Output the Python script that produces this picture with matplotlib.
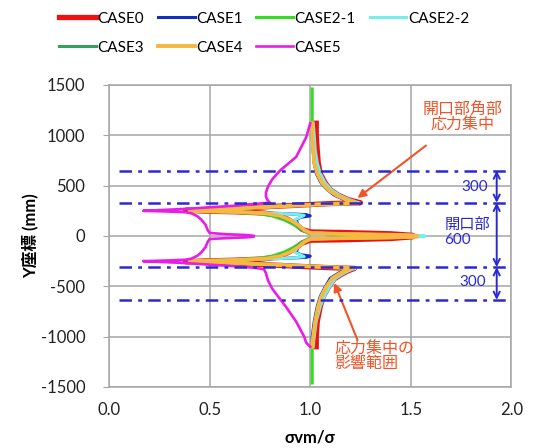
import numpy as np
import matplotlib
matplotlib.use("Agg")
import matplotlib.pyplot as plt

plt.rcParams['font.family'] = ['Lato', 'Noto Sans CJK JP', 'DejaVu Sans']
plt.rcParams['axes.unicode_minus'] = False

# ---- data ----
labels = ["CASE0", "CASE1", "CASE2-1", "CASE2-2", "CASE3", "CASE4", "CASE5"]
colors = ["#ee1111", "#1030c0", "#33dd22", "#77eeee", "#33a060", "#f5b840", "#e81ee8"]
widths = [3.8, 2.2, 2.2, 2.2, 2.2, 2.8, 1.9]

case0_y = [1120, 1000, 850, 725, 620, 525, 460, 405, 360, 330,
           322, 310, 297, 282, 267, 255,
           247, 240, 228, 205, 165, 115, 65, 40,
           35, 22, 6, -8, -25, -38,
           -42, -70, -115, -165, -205, -228, -240, -248,
           -255, -265, -278, -292, -305, -315,
           -322, -345, -375, -425, -510, -600, -700, -850, -1000, -1100]
case0_x = [1.03, 1.03, 1.035, 1.04, 1.05, 1.075, 1.10, 1.14, 1.19, 1.25,
           1.10, 0.98, 0.85, 0.70, 0.55, 0.38,
           0.48, 0.63, 0.77, 0.84, 0.89, 0.93, 0.96, 1.00,
           1.15, 1.40, 1.51, 1.51, 1.40, 1.15,
           1.00, 0.96, 0.93, 0.89, 0.84, 0.77, 0.63, 0.48,
           0.38, 0.55, 0.70, 0.85, 0.98, 1.10,
           1.22, 1.19, 1.16, 1.12, 1.09, 1.065, 1.05, 1.035, 1.03, 1.03]

case1_y = [1120, 1000, 850, 725, 620, 525, 460, 405, 360, 325,
           318, 308, 295, 280, 265, 252,
           245, 238, 228, 220, 212, 200, 185, 160, 110, 60, 30,
           18, 10, 2, -6, -14, -20,
           -30, -60, -110, -160, -185, -200, -212, -220, -228, -238, -245,
           -252, -262, -275, -288, -300, -310,
           -318, -340, -370, -420, -505, -600, -700, -850, -1000, -1100]
case1_x = [1.01, 1.01, 1.015, 1.02, 1.03, 1.055, 1.085, 1.12, 1.17, 1.22,
           1.10, 0.98, 0.85, 0.70, 0.55, 0.40,
           0.50, 0.65, 0.80, 0.90, 0.98, 1.00, 0.95, 0.93, 0.94, 0.97, 1.00,
           1.15, 1.35, 1.48, 1.48, 1.35, 1.15,
           1.00, 0.97, 0.94, 0.93, 0.95, 1.00, 0.98, 0.90, 0.80, 0.65, 0.50,
           0.40, 0.55, 0.70, 0.85, 0.98, 1.10,
           1.20, 1.17, 1.14, 1.10, 1.075, 1.05, 1.035, 1.02, 1.01, 1.01]

case21_y = [1460, 1300, 1120, 1000, 850, 725, 620, 525, 460, 405, 360, 325,
            318, 308, 295, 280, 265, 252,
            245, 236, 222, 200, 160, 110, 60, 30,
            20, 12, 3, -6, -15, -22,
            -30, -60, -110, -160, -200, -222, -236, -245,
            -252, -262, -275, -288, -300, -310,
            -318, -340, -370, -420, -505, -600, -700, -850, -1000, -1100, -1300, -1460]
case21_x = [1.01, 1.01, 1.01, 1.01, 1.015, 1.02, 1.035, 1.06, 1.09, 1.13, 1.18, 1.23,
            1.10, 0.98, 0.85, 0.70, 0.55, 0.40,
            0.48, 0.62, 0.74, 0.81, 0.87, 0.92, 0.96, 0.99,
            1.15, 1.38, 1.50, 1.50, 1.38, 1.15,
            0.99, 0.96, 0.92, 0.87, 0.81, 0.74, 0.62, 0.48,
            0.40, 0.55, 0.70, 0.85, 0.98, 1.10,
            1.21, 1.18, 1.15, 1.11, 1.08, 1.055, 1.04, 1.025, 1.015, 1.01, 1.01, 1.01]

case22_y = [1120, 1000, 850, 725, 620, 525, 460, 405, 360, 328,
            320, 309, 296, 281, 266, 253,
            245, 238, 228, 218, 205, 185, 160, 110, 60, 30,
            20, 12, 3, -6, -15, -22,
            -30, -60, -110, -160, -185, -205, -218, -228, -238, -245,
            -253, -263, -276, -289, -301, -312,
            -320, -342, -372, -422, -508, -600, -700, -850, -1000, -1100]
case22_x = [1.015, 1.02, 1.025, 1.035, 1.05, 1.075, 1.105, 1.145, 1.195, 1.245,
            1.10, 0.98, 0.85, 0.70, 0.55, 0.40,
            0.50, 0.65, 0.80, 0.92, 0.97, 0.95, 0.92, 0.94, 0.97, 1.00,
            1.15, 1.42, 1.57, 1.57, 1.42, 1.15,
            1.00, 0.97, 0.94, 0.92, 0.95, 0.97, 0.92, 0.80, 0.65, 0.50,
            0.40, 0.55, 0.70, 0.85, 0.98, 1.10,
            1.225, 1.195, 1.165, 1.125, 1.095, 1.07, 1.05, 1.03, 1.02, 1.015]

case3_y = [1120, 1000, 850, 725, 620, 525, 460, 405, 360, 325,
           318, 308, 295, 280, 265, 252,
           245, 238, 224, 200, 160, 110, 60, 30,
           20, 12, 3, -6, -15, -22,
           -30, -60, -110, -160, -200, -224, -238, -245,
           -252, -262, -275, -288, -300, -310,
           -318, -340, -370, -420, -505, -600, -700, -850, -1000, -1100]
case3_x = [1.01, 1.01, 1.015, 1.02, 1.035, 1.06, 1.09, 1.13, 1.18, 1.23,
           1.10, 0.98, 0.85, 0.70, 0.55, 0.40,
           0.50, 0.64, 0.76, 0.83, 0.89, 0.93, 0.96, 0.99,
           1.15, 1.38, 1.50, 1.50, 1.38, 1.15,
           0.99, 0.96, 0.93, 0.89, 0.83, 0.76, 0.64, 0.50,
           0.40, 0.55, 0.70, 0.85, 0.98, 1.10,
           1.21, 1.18, 1.15, 1.11, 1.08, 1.055, 1.04, 1.025, 1.015, 1.01]

case4_y = [1120, 1000, 850, 725, 620, 525, 460, 405, 360, 325,
           318, 308, 295, 280, 265, 252,
           245, 238, 225, 200, 160, 110, 60, 30,
           20, 12, 3, -6, -15, -22,
           -30, -60, -110, -160, -200, -225, -238, -245,
           -252, -262, -275, -288, -300, -310,
           -318, -340, -370, -420, -505, -600, -700, -850, -1000, -1100]
case4_x = [1.01, 1.01, 1.015, 1.02, 1.035, 1.06, 1.09, 1.13, 1.18, 1.23,
           1.10, 0.98, 0.85, 0.70, 0.55, 0.40,
           0.50, 0.65, 0.78, 0.85, 0.90, 0.94, 0.97, 1.00,
           1.15, 1.40, 1.53, 1.53, 1.40, 1.15,
           1.00, 0.97, 0.94, 0.90, 0.85, 0.78, 0.65, 0.50,
           0.40, 0.55, 0.70, 0.85, 0.98, 1.10,
           1.21, 1.18, 1.15, 1.11, 1.08, 1.055, 1.04, 1.025, 1.015, 1.01]

case5_y = [1120, 980, 785, 650, 560, 490, 430, 390, 350, 330,
           315, 300, 285, 270, 258, 250,
           244, 236, 225, 195, 160, 110, 60, 30,
           18, 10, 2, -6, -14, -22,
           -30, -60, -110, -160, -195, -225, -236, -244,
           -250, -258, -270, -285, -300, -315,
           -330, -370, -440, -520, -600, -705, -850, -1000, -1060, -1100]
case5_x = [1.00, 0.98, 0.93, 0.85, 0.81, 0.79, 0.78, 0.78, 0.79, 0.80,
           0.70, 0.62, 0.50, 0.39, 0.26, 0.17,
           0.28, 0.38, 0.41, 0.44, 0.46, 0.48, 0.49, 0.50,
           0.58, 0.68, 0.72, 0.72, 0.68, 0.58,
           0.50, 0.49, 0.48, 0.46, 0.44, 0.41, 0.38, 0.28,
           0.17, 0.26, 0.39, 0.50, 0.62, 0.72,
           0.77, 0.78, 0.79, 0.81, 0.84, 0.88, 0.93, 0.97, 0.98, 1.00]

series_x = [case0_x, case1_x, case21_x, case22_x, case3_x, case4_x, case5_x]
series_y = [case0_y, case1_y, case21_y, case22_y, case3_y, case4_y, case5_y]

# opening lines and dimension marks
dash_levels = [650, 330, -310, -635]
dim_spans = [(650, 330), (330, -310), (-310, -635)]

fig = plt.figure(figsize=(5.36, 4.48), dpi=100)
ax = fig.add_axes([0.2034, 0.1362, 0.7507, 0.6741])

handles = []
for xs, ys, lab, c, w in zip(series_x, series_y, labels, colors, widths):
    h, = ax.plot(xs, ys, color=c, lw=w, label=lab, solid_joinstyle='round')
    handles.append(h)

blue = "#2a2ad0"
for lv in dash_levels:
    ax.plot([0.05, 2.0], [lv, lv], color=blue, lw=1.8,
            linestyle=(0, (5, 2.5, 1.5, 2.5)), clip_on=False, zorder=5)

for y0, y1 in dim_spans:
    ax.annotate("", xy=(1.927, y1), xytext=(1.927, y0),
                arrowprops=dict(arrowstyle="<->", color=blue, lw=1.4,
                                mutation_scale=11, shrinkA=0, shrinkB=0))
ax.text(1.816, 482, "300", color=blue, fontsize=11, ha="center", va="center")
ax.text(1.667, 35, "開口部\n600", color=blue, fontsize=11, ha="left", va="center",
        linespacing=1.05)
ax.text(1.806, -457, "300", color=blue, fontsize=11, ha="center", va="center")

red = "#f05428"
ax.annotate("開口部角部\n応力集中", xy=(1.235, 377), xytext=(1.757, 1177),
            color=red, fontsize=11.5, ha="center", va="center", multialignment="center",
            linespacing=1.0,
            arrowprops=dict(arrowstyle="-|>", color=red, lw=1.5, mutation_scale=12,
                            shrinkA=12, shrinkB=0))
ax.text(1.12, -1192, "応力集中の\n影響範囲", color=red, fontsize=11.5,
        ha="left", va="center", linespacing=1.0)
ax.annotate("", xy=(1.12, -467), xytext=(1.235, -1033),
            arrowprops=dict(arrowstyle="-|>", color=red, lw=1.5, mutation_scale=12,
                            shrinkA=0, shrinkB=0))

ax.set_xlim(0, 2.0)
ax.set_ylim(-1500, 1500)
ax.set_xticks(np.arange(0, 2.01, 0.5))
ax.set_yticks(np.arange(-1500, 1501, 500))
ax.set_xticklabels(["0.0", "0.5", "1.0", "1.5", "2.0"])
ax.grid(True, color="#a6a6a6", lw=1.1)
ax.set_axisbelow(True)
for s in ax.spines.values():
    s.set_color("#a6a6a6")
    s.set_linewidth(1.1)
ax.tick_params(axis="y", length=4, color="#a6a6a6", pad=13, labelsize=12, labelcolor="#222222")
ax.tick_params(axis="x", length=0, pad=11, labelsize=12, labelcolor="#222222")

ax.set_ylabel("Y座標 (mm)", fontsize=12, fontweight="bold", labelpad=2)
ax.set_xlabel("σvm/σ", fontsize=12, fontweight="bold", labelpad=8)

order = [0, 4, 1, 5, 2, 6, 3]
fig.legend([handles[i] for i in order], [labels[i] for i in order],
           loc="upper left", bbox_to_anchor=(0.085, 1.005), ncol=4, frameon=False,
           fontsize=11, handlelength=2.4, handletextpad=0.1, columnspacing=0.9,
           labelspacing=1.0)

fig.savefig("out.png", dpi=100)
